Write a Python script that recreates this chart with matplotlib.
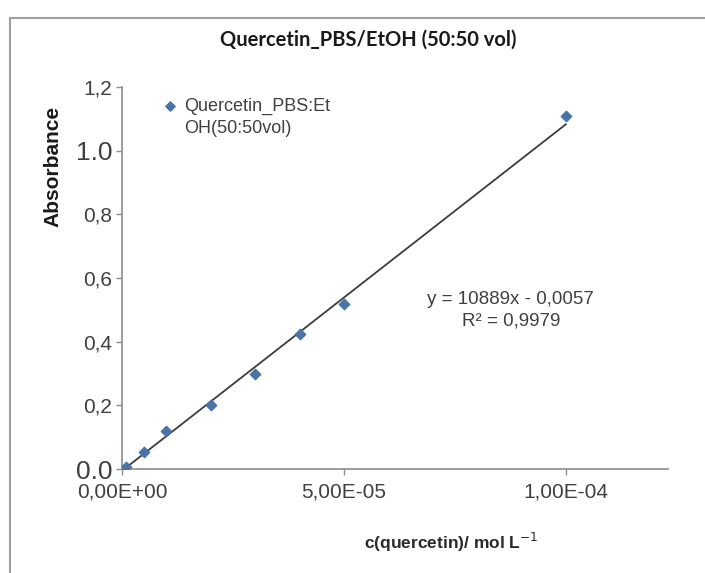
import matplotlib.pyplot as plt
import numpy as np

# calibration data: quercetin in PBS/EtOH (50:50 vol)
conc = [1e-6, 5e-6, 1e-5, 2e-5, 3e-5, 4e-5, 5e-5, 1e-4]
absorb = [0.005, 0.053, 0.12, 0.20, 0.30, 0.425, 0.52, 1.11]
slope = 10889
intercept = -0.0057
r2 = 0.9979

y_ticks = [0.0, 0.2, 0.4, 0.6, 0.8, 1.0, 1.2]
y_tick_labels = ['0.0', '0,2', '0,4', '0,6', '0,8', '1.0', '1,2']
x_ticks = [0, 5e-5, 1e-4]
x_tick_labels = ['0,00E+00', '5,00E-05', '1,00E-04']

plt.rcParams['font.family'] = ['Liberation Sans', 'DejaVu Sans']

fig = plt.figure(figsize=(7.05, 5.73), dpi=100)
ax = fig.add_axes([0.173, 0.1815, 0.7745, 0.6665])

# chart area border
fig.add_artist(plt.Line2D([0.014, 1.0], [0.969, 0.969], color='#a0a0a0', lw=1.5))
fig.add_artist(plt.Line2D([0.014, 0.014], [0.0, 0.969], color='#a0a0a0', lw=1.5))

xfit = np.array([0, max(conc)])
ax.plot(xfit, slope * xfit + intercept, color='#3c3c3c', lw=1.3, zorder=2)
ax.scatter(conc, absorb, marker='D', s=28, color='#4a74a8', zorder=3,
           label='Quercetin_PBS:Et\nOH(50:50vol)')

ax.set_xlim(0, 1.23e-4)
ax.set_ylim(0, 1.2)
ax.set_xticks(x_ticks)
ax.set_xticklabels(x_tick_labels, fontsize=15)
ax.set_yticks(y_ticks)
ax.set_yticklabels(y_tick_labels)
for lab, txt in zip(ax.get_yticklabels(), y_tick_labels):
    if '.' in txt:
        lab.set_fontsize(19)
    else:
        lab.set_fontsize(15)

for side in ('top', 'right'):
    ax.spines[side].set_visible(False)
for side in ('left', 'bottom'):
    ax.spines[side].set_color('#8c8c8c')
    ax.spines[side].set_linewidth(1.2)
ax.tick_params(axis='both', colors='#8c8c8c', length=4, width=1)
ax.tick_params(axis='x', labelcolor='#404040', pad=6)
ax.tick_params(axis='y', labelcolor='#404040', pad=3)

# marker sits level with the first line of the wrapped label
leg = ax.legend(loc='upper left', bbox_to_anchor=(0.045, 1.015), frameon=False,
                fontsize=13, handlelength=0.8, handletextpad=0.4, markerscale=0.9,
                labelcolor='#404040', scatteryoffsets=[1.4])
leg.get_texts()[0].set_linespacing(1.4)

ax.text(0.712, 0.416, 'y = 10889x - 0,0057\nR² = 0,9979', transform=ax.transAxes,
        ha='center', va='center', fontsize=13.5, color='#404040', linespacing=1.4)

fig.text(0.523, 0.93, 'Quercetin_PBS/EtOH (50:50 vol)', ha='center', va='center',
         fontsize=14.5, fontweight='bold', family='Lato', color='#1a1a1a')
fig.text(0.075, 0.71, 'Absorbance', rotation=90, ha='center', va='center',
         fontsize=15, fontweight='bold', color='#1a1a1a')
fig.text(0.64, 0.054, 'c(quercetin)/ mol L$^{-1}$', ha='center', va='center',
         fontsize=12.5, fontweight='bold', color='#2a2a2a')

fig.savefig('out.png', dpi=100)
